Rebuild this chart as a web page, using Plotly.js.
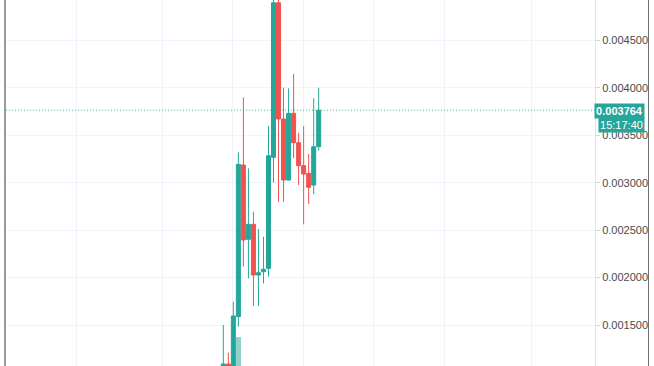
<!DOCTYPE html>
<html>
<head>
<meta charset="utf-8">
<script src="https://cdn.plot.ly/plotly-3.0.1.min.js"></script>
<style>
  html, body { margin: 0; padding: 0; background: #fff; }
  #wrap { position: relative; width: 654px; height: 366px; overflow: hidden; }
  #chart { position: absolute; left: 0; top: 0; width: 654px; height: 366px; }
  #lb { position: absolute; left: 4px; top: 0; width: 2px; height: 366px; background: #9a9a9a; }
  #rb { position: absolute; left: 648px; top: 0; width: 1px; height: 366px; background: #6e6e6e; }
</style>
</head>
<body>
<div id="wrap">
  <div id="chart"></div>
  <div id="lb"></div>
  <div id="rb"></div>
</div>
<script>
// Candle index (bar number) and OHLC values
const bars   = [0,1,2,3,4,5,6,7,8,9,10,11,12,13,14,15,16,17,18,19];
const open   = [0.001062,0.001089,0.001030,0.001588,0.003186,0.002403,0.002561,0.002027,0.002062,0.002097,0.003267,0.004896,0.003671,0.003028,0.003731,0.003421,0.003179,0.003098,0.002975,0.003379];
const high   = [0.001500,0.001208,0.001746,0.003320,0.003899,0.003151,0.002694,0.002512,0.002430,0.003600,0.004990,0.004990,0.004000,0.003994,0.004145,0.003526,0.003597,0.003302,0.003889,0.004000];
const low    = [0.001030,0.001030,0.001000,0.001482,0.002114,0.001992,0.001700,0.001700,0.001939,0.002009,0.003000,0.002799,0.002799,0.003025,0.003257,0.002975,0.002561,0.002775,0.002877,0.003337];
const close  = [0.001089,0.001063,0.001595,0.003193,0.002396,0.002561,0.002027,0.002051,0.002087,0.003284,0.004896,0.003671,0.003028,0.003731,0.003421,0.003179,0.003091,0.002951,0.003379,0.003764];
const volume = [6,4,14,28,18,12,9,6,5,12,19,17,10,9,8,6,7,6,8,9];
const priceTicks = [0.0015,0.002,0.0025,0.003,0.0035,0.004,0.0045];
const timeGrid = [-29.3,-12.2,1.9,15.9,30.0,44.15,61.3];
const lastPrice = 0.003764;
const lastPriceText = "0.003764";
const countdownText = "15:17:40";

const UP = '#26a69a', DOWN = '#ef5350';

const traces = [
  {
    type: 'bar', x: bars, y: volume, yaxis: 'y2',
    marker: { color: 'rgba(38,166,154,0.5)', line: { width: 0 } },
    hoverinfo: 'skip', showlegend: false
  },
  {
    type: 'candlestick', x: bars, open: open, high: high, low: low, close: close,
    increasing: { line: { color: UP, width: 1 }, fillcolor: UP },
    decreasing: { line: { color: DOWN, width: 1 }, fillcolor: DOWN },
    whiskerwidth: 0, showlegend: false
  }
];

const layout = {
  width: 654, height: 366,
  margin: { l: 6, r: 59, t: 0, b: 0, pad: 0 },
  paper_bgcolor: '#ffffff', plot_bgcolor: '#ffffff',
  showlegend: false,
  boxgap: 0.2, boxgroupgap: 0,
  bargap: 0,
  xaxis: {
    type: 'linear', range: [-43.28, 74.03],
    tickvals: timeGrid, showticklabels: false,
    showgrid: true, gridcolor: '#f0f3fa', gridwidth: 1,
    zeroline: false, showline: false, ticks: '',
    rangeslider: { visible: false }, fixedrange: true
  },
  yaxis: {
    side: 'right', range: [0.001068, 0.004925],
    tickvals: priceTicks, tickformat: '.6f',
    showgrid: true, gridcolor: '#f0f3fa', gridwidth: 1,
    zeroline: false,
    showline: true, linecolor: '#e0e3eb', linewidth: 1,
    ticks: 'outside', ticklen: 4, tickcolor: '#d6d8de', tickwidth: 1,
    tickfont: { family: 'Liberation Sans, Arial, sans-serif', size: 11, color: '#4a4a4a' },
    fixedrange: true
  },
  yaxis2: {
    overlaying: 'y', side: 'left', range: [20, 120],
    showgrid: false, showticklabels: false, zeroline: false, showline: false, ticks: '',
    fixedrange: true
  },
  shapes: [
    {
      type: 'line', xref: 'paper', yref: 'y', x0: 0, x1: 1, y0: lastPrice, y1: lastPrice,
      line: { color: 'rgba(38,166,154,0.8)', width: 1, dash: '1px,2px' }
    }
  ],
  annotations: [
    {
      xref: 'paper', yref: 'y', x: 1, y: lastPrice, xanchor: 'left', yanchor: 'middle',
      xshift: -1, yshift: -1,
      text: '<b>' + lastPriceText + '</b>', showarrow: false,
      bgcolor: UP, borderpad: 1, width: 47, height: 12, align: 'center',
      font: { family: 'Liberation Sans, Arial, sans-serif', size: 11, color: '#ffffff' }
    },
    {
      xref: 'paper', yref: 'y', x: 1, y: lastPrice, xanchor: 'left', yanchor: 'middle',
      xshift: 3, yshift: -15,
      text: countdownText, showarrow: false,
      bgcolor: UP, borderpad: 1, width: 43, height: 12, align: 'center',
      font: { family: 'Liberation Sans, Arial, sans-serif', size: 11, color: '#ffffff' }
    }
  ]
};

Plotly.newPlot('chart', traces, layout, { staticPlot: true, displayModeBar: false });
</script>
</body>
</html>
